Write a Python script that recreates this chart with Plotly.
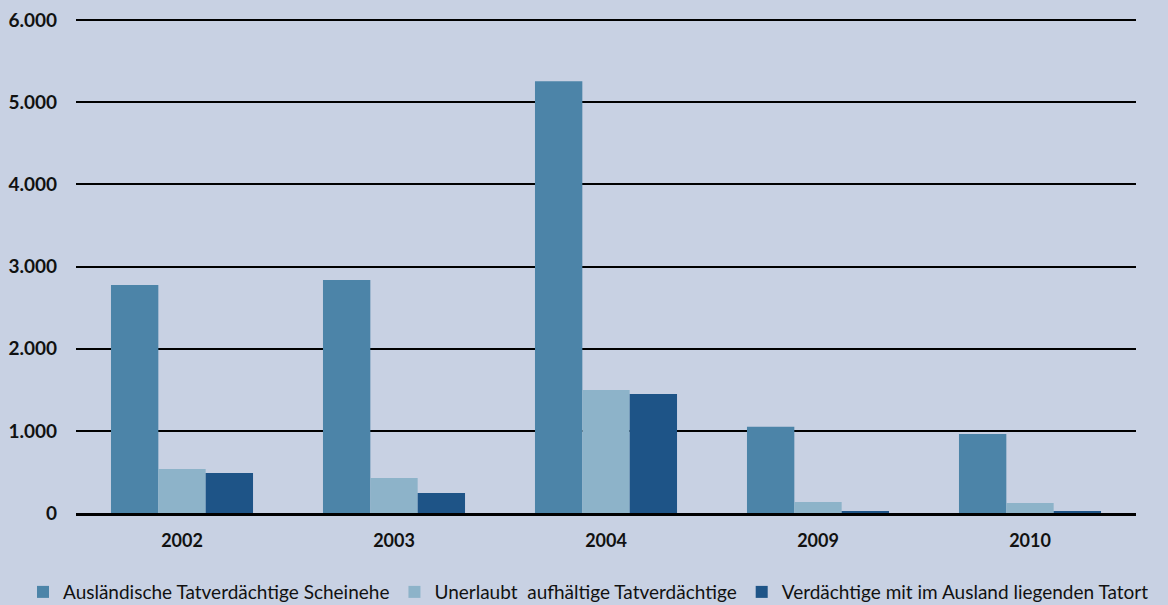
import plotly.graph_objects as go

years = ["2002", "2003", "2004", "2009", "2010"]
scheinehe = [2775, 2836, 5257, 1050, 961]
unerlaubt = [535, 426, 1497, 134, 122]
ausland_tatort = [487, 243, 1448, 25, 25]

names = ["Ausländische Tatverdächtige Scheinehe",
         "Unerlaubt  aufhältige Tatverdächtige",
         "Verdächtige mit im Ausland liegenden Tatort"]
colors = ["#4C84A8", "#8DB3C9", "#1E5487"]
y_ticks = [0, 1000, 2000, 3000, 4000, 5000, 6000]

fig = go.Figure()
for name, vals, col in zip(names, [scheinehe, unerlaubt, ausland_tatort], colors):
    fig.add_trace(go.Bar(x=years, y=vals, name=name, marker_color=col,
                         marker_line_width=0))

fig.update_layout(
    width=1168, height=605,
    paper_bgcolor="#C8D1E3", plot_bgcolor="#C8D1E3",
    margin=dict(l=76, r=32, t=19, b=92, autoexpand=False),
    barmode="group", bargap=0.33, bargroupgap=0,
    separators=",.",
    font=dict(family="Lato, Noto Sans, sans-serif", color="#111111"),
    legend=dict(orientation="h", xref="paper", yref="paper",
                x=-0.05, xanchor="left", y=-0.16, yanchor="middle",
                font=dict(size=19, color="#111111"), itemwidth=30,
                traceorder="normal", tracegroupgap=0),
    showlegend=True,
)
fig.update_yaxes(range=[0, 6015], tickvals=y_ticks, tickformat=",d",
                 showgrid=True, gridcolor="#000000", gridwidth=2,
                 zeroline=False, showline=False,
                 ticks="", ticklabelstandoff=18,
                 tickfont=dict(size=19, family="Lato, sans-serif", weight="bold", color="#111111"))
fig.update_xaxes(showline=True, linecolor="#000000", linewidth=3,
                 ticks="", ticklabelstandoff=9,
                 tickfont=dict(size=18, family="Lato, sans-serif", weight="bold", color="#111111"))

fig.write_html("out.html", config={"displayModeBar": False},
               post_script="document.body.style.margin='0';")
